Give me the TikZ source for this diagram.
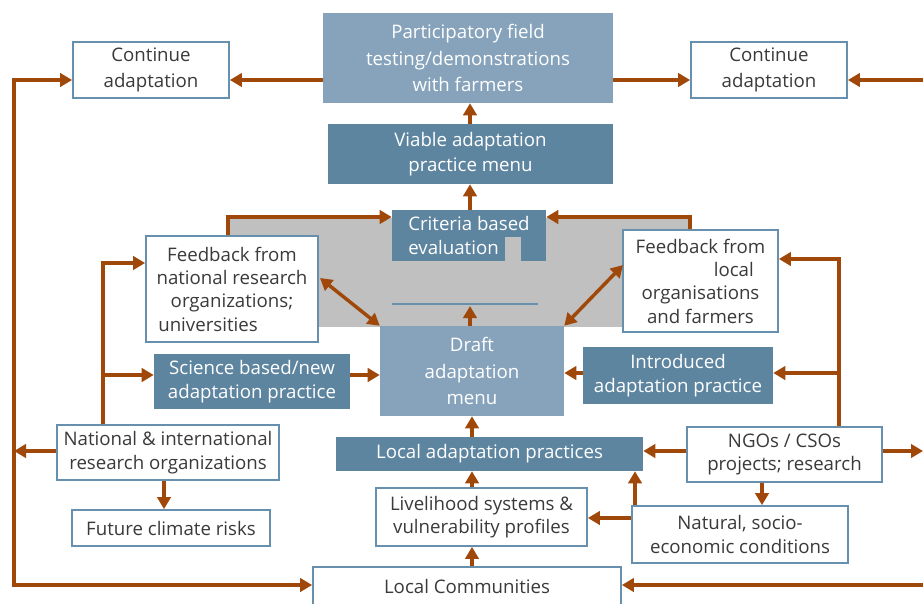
\documentclass[tikz,border=0pt]{standalone}
\usepackage{fontspec}
\setmainfont{Open Sans}
\usetikzlibrary{arrows.meta}
\definecolor{brn}{HTML}{A0480A}
\definecolor{dk}{HTML}{5E85A0}
\definecolor{lt}{HTML}{86A3BB}
\definecolor{bd}{HTML}{6790AE}
\definecolor{gr}{HTML}{C0C0C0}
\definecolor{tx}{HTML}{3A3A3A}
\newcommand\bx[7]{\node[#1, minimum width={(#5-#3)*0.75pt}, minimum height={(#6-#4)*0.75pt}] (#2) at ({(#3+#5)/2},{(#4+#6)/2}) {#7};}
\begin{document}
\begin{tikzpicture}[x=0.75pt,y=-0.75pt,
  base/.style={inner sep=0pt, align=center, font=\fontsize{14}{17.5}\selectfont},
  wbox/.style={base, draw=bd, line width=1.3pt, fill=white, text=tx},
  dbox/.style={base, fill=dk, text=white},
  lbox/.style={base, fill=lt, text=white},
  arr/.style={draw=brn, line width=2.6pt, -{Triangle[length=9pt,width=10pt]}},
  darr/.style={draw=brn, line width=2.6pt, {Triangle[length=9pt,width=10pt]}-{Triangle[length=9pt,width=10pt]}},
  big/.style={font=\fontsize{14}{20}\selectfont},
  mid/.style={font=\fontsize{14}{19}\selectfont}]
\useasboundingbox (0,0) rectangle (923,603);
\clip (0,0) rectangle (923,603);
\fill[white] (0,0) rectangle (923,603);
\fill[gr] (228,218) rectangle (690,327);

% nodes
\bx{lbox, big}{part}{323}{13}{613}{103}{Participatory field\\testing/demonstrations\\with farmers}
\bx{dbox, mid}{via}{328}{124}{613}{184}{Viable adaptation\\practice menu}
\bx{wbox, mid}{cl}{73}{42}{229}{98}{Continue\\adaptation}
\bx{wbox, mid}{cr}{691}{42}{847}{98}{Continue\\adaptation}
\fill[dk] (392,210) rectangle (546,261);
\fill[gr] (505,237) rectangle (521,261);
\bx{base, text=white, align=left}{crit}{392}{210}{546}{261}{Criteria based\\evaluation}
\draw[bd, line width=0.8pt] (392,304) -- (538,304);
\bx{lbox, big}{draft}{380}{326}{564}{416}{Draft\\adaptation\\menu}
\bx{wbox}{fbn}{146}{236}{318}{342}{Feedback from\\national research\\organizations;\\universities\hspace*{36pt}}
\bx{wbox}{fbl}{623}{230}{778}{332}{Feedback from\\\hspace*{50pt}local\\organisations\\and farmers}
\bx{dbox}{sci}{154}{354}{350}{409}{Science based/new\\adaptation practice}
\bx{dbox}{intro}{583}{347}{773}{404}{Introduced\\adaptation practice}
\bx{wbox}{nat}{57}{425}{279}{480}{National \& international\\research organizations}
\bx{wbox}{fut}{72}{510}{270}{546}{Future climate risks}
\bx{dbox}{locad}{336}{437}{643}{471}{Local adaptation practices}
\bx{wbox}{liv}{376}{488}{587}{546}{Livelihood systems \&\\vulnerability profiles}
\bx{wbox}{ngo}{687}{427}{882}{482}{NGOs / CSOs\\projects; research}
\bx{wbox}{soc}{632}{506}{848}{563}{Natural, socio-\\economic conditions}
\bx{wbox}{lc}{313}{567}{621}{605}{Local Communities}

% coordinates
\coordinate (ya) at (0,80);
\coordinate (yb) at (0,585);
\coordinate (L) at (14,451);
\coordinate (R1) at (923,80);
\coordinate (R2) at (923,451);
\coordinate (R3) at (923,585);
\coordinate (t1) at (228,217);
\coordinate (t2) at (690,217);
\coordinate (xa) at (103,263);
\coordinate (xb) at (103,375);
\coordinate (ra) at (839,259);
\coordinate (rb) at (839,373);
\coordinate (ln) at (470,306);
\coordinate (d1) at (320,278);
\coordinate (d2) at (623,265);
\coordinate (fx) at (164,0);
\coordinate (nx) at (762,0);
\coordinate (sx) at (635,0);
\coordinate (sy) at (0,518);
\coordinate (cx) at (472,0);
\coordinate (ux) at (470,0);
\coordinate (ny) at (0,451);

% connectors
\draw[arr] (part.west |- ya) -- (cl.east |- ya);
\draw[arr] (part.east |- ya) -- (cr.west |- ya);
\draw[arr] (R1) -- (cr.east |- R1);
\draw[arr] (nat.west |- ny) -- (L);
\draw[arr] (L) |- (cl.west |- ya);
\draw[arr] (L) |- (lc.west |- yb);
\draw[arr] (ngo.east |- ny) -- (R2);
\draw[arr] (R3) -- (lc.east |- R3);
\draw[arr] (via.north -| ux) -- (part.south -| ux);
\draw[arr] (crit.north -| ux) -- (via.south -| ux);
\draw[arr] (draft.north -| ln) -- (ln);
\draw[arr] (fbn.north -| t1) |- (crit.west |- t1);
\draw[arr] (fbl.north -| t2) |- (crit.east |- t2);
\draw[darr] (d1) -- (draft.north west);
\draw[darr] (d2) -- (draft.north east);
\draw[arr] (sci.east |- xb) -- (draft.west |- xb);
\draw[arr] (intro.west |- rb) -- (draft.east |- rb);
\draw[arr] (nat.north -| xa) -- (xa) -- (xa -| fbn.west);
\draw[arr] (xb) -- (xb -| sci.west);
\draw[arr] (ngo.north -| ra) -- (ra) -- (ra -| fbl.east);
\draw[arr] (rb) -- (rb -| intro.east);
\draw[arr] (nat.south -| fx) -- (fut.north -| fx);
\draw[arr] (ngo.west |- ny) -- (locad.east |- ny);
\draw[arr] (ngo.south -| nx) -- (soc.north -| nx);
\draw[arr] (soc.west |- sy) -- (liv.east |- sy);
\draw[arr] (soc.north -| sx) -- (locad.south -| sx);
\draw[arr] (lc.north -| cx) -- (liv.south -| cx);
\draw[arr] (liv.north -| cx) -- (locad.south -| cx);
\draw[arr] (locad.north -| cx) -- (draft.south -| cx);
\end{tikzpicture}
\end{document}
